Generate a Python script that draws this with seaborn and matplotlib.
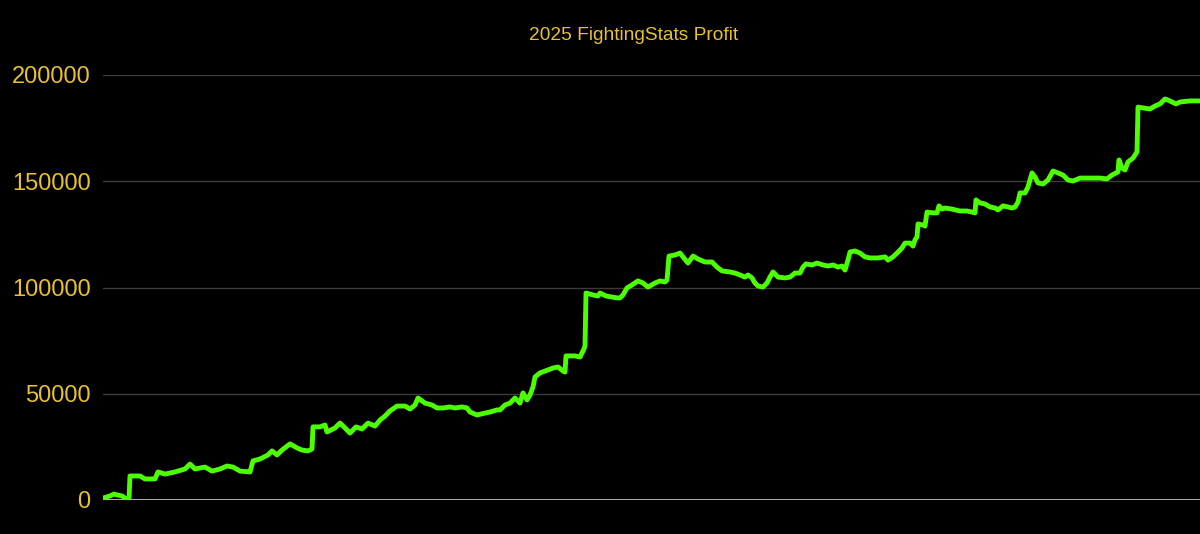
import pandas as pd
import numpy as np
import matplotlib.pyplot as plt
import seaborn as sns

# cumulative profit (bet number vs profit)
bets = [0, 7, 11, 14, 19, 23, 26, 27, 37, 42, 52, 55, 62, 72, 82, 87, 92, 102, 109, 117,
        124, 130, 137, 147, 150, 157, 165, 169, 174, 179, 187, 194, 199, 205, 209, 210, 217, 222, 224, 232,
        237, 242, 247, 253, 259, 265, 272, 277, 282, 287, 294, 302, 307, 312, 315, 322, 329, 334, 340, 347,
        352, 359, 364, 367, 374, 382, 387, 394, 397, 402, 407, 412, 417, 420, 424, 427, 430, 432, 437, 442,
        450, 455, 460, 462, 463, 472, 477, 481, 482, 483, 490, 495, 497, 503, 509, 514, 517, 520, 524, 529,
        535, 540, 545, 552, 557, 562, 564, 566, 572, 577, 580, 585, 590, 595, 602, 609, 614, 619, 627, 632,
        637, 642, 645, 649, 652, 655, 660, 664, 667, 670, 675, 682, 687, 692, 697, 700, 703, 709, 714, 720,
        725, 730, 735, 739, 742, 745, 747, 752, 757, 762, 767, 775, 782, 785, 790, 794, 799, 802, 807, 810,
        812, 814, 815, 820, 822, 824, 830, 834, 836, 839, 842, 849, 857, 864, 869, 872, 873, 877, 882, 887,
        892, 895, 900, 905, 909, 912, 915, 917, 922, 925, 929, 932, 935, 940, 945, 950, 955, 960, 965, 970,
        977, 987, 997, 1004, 1009, 1015, 1016, 1019, 1022, 1025, 1030, 1034, 1035, 1040, 1047, 1052, 1057, 1062, 1065, 1069,
        1073, 1077, 1087, 1097]
profit = [900, 1900, 2800, 2400, 1900, 500, 500, 11300, 11300, 9900, 9900, 13200, 12200, 13200, 14600, 16900, 14600, 15500, 13600, 14600,
          16000, 15500, 13600, 13200, 18400, 19300, 21200, 23100, 21200, 23500, 26400, 24500, 23500, 23100, 24000, 34400, 34400, 35300, 32000, 33900,
          36200, 33900, 31500, 34400, 33400, 36200, 34800, 37600, 39500, 41900, 44200, 44200, 42800, 44700, 48000, 45600, 44700, 43300, 43300, 43800,
          43300, 43800, 43300, 41400, 40000, 40900, 41400, 42400, 42400, 44700, 45600, 48000, 45600, 50400, 47100, 49400, 53200, 57900, 59800, 60700,
          62100, 62600, 60700, 60200, 67800, 67800, 67300, 71100, 72500, 97400, 96500, 96000, 97400, 96000, 95500, 95100, 95100, 96500, 99800, 101200,
          103100, 102100, 100200, 102100, 103100, 102600, 103500, 114800, 115300, 116200, 114400, 111500, 114800, 113400, 112000, 112000, 109600, 107800, 107300, 106800,
          105900, 104900, 105900, 104500, 102100, 100700, 100200, 102100, 104900, 107300, 104900, 104500, 104900, 106800, 106800, 109600, 111100, 110600, 111500, 110600,
          110100, 110600, 109600, 110100, 108200, 112900, 116700, 117200, 116200, 114400, 113900, 113900, 114400, 112900, 114400, 116200, 118600, 120900, 120900, 119500,
          122400, 123800, 129900, 129400, 128900, 135500, 135100, 135100, 138400, 136900, 137400, 136900, 136000, 136000, 135500, 135100, 141200, 139800, 139300, 137900,
          137400, 136500, 138400, 137900, 137400, 137900, 140200, 144500, 144500, 147300, 153900, 152000, 149200, 148700, 150600, 154800, 153900, 152900, 150600, 150100,
          151500, 151500, 151500, 151100, 152900, 154400, 160000, 156200, 155300, 159100, 160900, 163800, 184900, 184500, 184000, 185400, 186400, 188700, 188200, 187300,
          186400, 187300, 187800, 187800]

yticks = [0, 50000, 100000, 150000, 200000]
title = "2025 FightingStats Profit"

df = pd.DataFrame({"bet": bets, "profit": profit})

gold = "#e8c12c"
green = "#4cff00"

sns.set_style("dark")
plt.rcParams["font.family"] = ["Liberation Sans", "DejaVu Sans"]

fig = plt.figure(figsize=(12, 5.34), dpi=100, facecolor="black")
ax = fig.add_axes([103 / 1200, 34 / 534, 1097 / 1200, 425 / 534])
ax.set_facecolor("black")

sns.lineplot(data=df, x="bet", y="profit", color=green, linewidth=3.5, ax=ax, zorder=3)

ax.set_xlim(0, 1097)
ax.set_ylim(0, 200000)
ax.set_yticks(yticks)
ax.set_yticklabels([str(t) for t in yticks])
ax.set_xticks([])
ax.set_xlabel("")
ax.set_ylabel("")
ax.tick_params(axis="y", length=0, pad=9, labelsize=17, labelcolor=gold)
ax.grid(False)
for t in yticks[1:]:
    ax.axhline(t, color="#3c3c3c", linewidth=1, zorder=1)
ax.axhline(0, color="#d0d0d0", linewidth=1.2, zorder=2)
for s in ax.spines.values():
    s.set_visible(False)

fig.text(634 / 1200, 1 - 35 / 534, title, color=gold, fontsize=13.8, ha="center", va="center")

fig.savefig("out.png", dpi=100, facecolor="black")
